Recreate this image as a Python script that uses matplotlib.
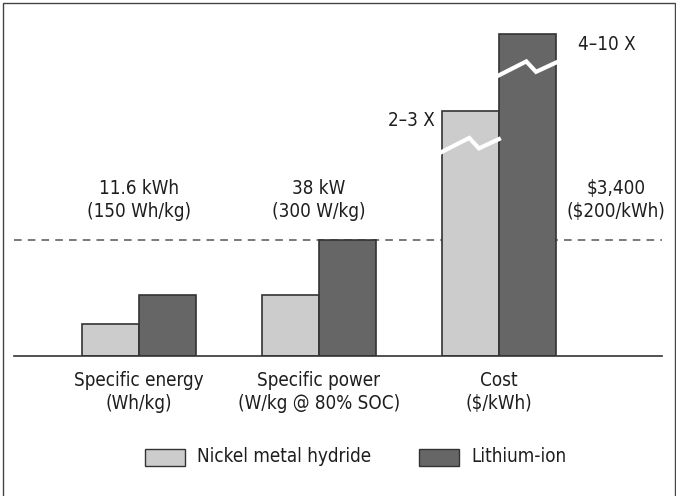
import matplotlib
matplotlib.use("Agg")
import matplotlib.pyplot as plt
import matplotlib.transforms as mtransforms
from matplotlib.patches import Rectangle
import numpy as np

plt.rcParams["font.family"] = ["DejaVu Sans"]
plt.rcParams["font.stretch"] = "condensed"

# values as fraction of the target line (target = 1.0)
categories = ["Specific energy\n(Wh/kg)", "Specific power\n(W/kg @ 80% SOC)", "Cost\n($/kWh)"]
nimh = [0.28, 0.53, 2.11]
liion = [0.53, 1.0, 2.78]
targets = ["11.6 kWh\n(150 Wh/kg)", "38 kW\n(300 W/kg)", "$3,400\n($200/kWh)"]
target_level = 1.0
cost_breaks = [1.82, 2.48]          # where the cost bars are broken
cost_multipliers = ["2\u20133 X", "4\u201310 X"]
series_names = ["Nickel metal hydride", "Lithium-ion"]

light = "#cccccc"
dark = "#666666"
edge = "#333333"
ink = "#1e1e1e"
width = 0.317

fig = plt.figure(figsize=(6.76, 4.96), dpi=100)
ax = fig.add_axes([14 / 676, 140 / 496, 648 / 676, 336 / 496])
x = np.arange(len(categories))

ax.bar(x - width / 2, nimh, width, color=light, edgecolor=edge, linewidth=1.2, zorder=2)
ax.bar(x + width / 2, liion, width, color=dark, edgecolor=edge, linewidth=1.2, zorder=2)

ax.axhline(target_level, color="#555555", linewidth=1.1, linestyle=(0, (5, 4)), zorder=1)

# break marks on the cost bars
for xc, yb in zip([x[2] - width / 2, x[2] + width / 2], cost_breaks):
    xs = [xc - width / 2, xc - width / 2 + 0.48 * width, xc - width / 2 + 0.65 * width, xc + width / 2]
    ys = [yb - 0.06, yb + 0.06, yb - 0.03, yb + 0.05]
    ax.plot(xs, ys, color="white", linewidth=3, solid_joinstyle="miter", zorder=3)

ax.set_xlim(-0.694, 2.906)
ax.set_ylim(0, 2.897)
for s in ["top", "left", "right"]:
    ax.spines[s].set_visible(False)
ax.spines["bottom"].set_color(edge)
ax.spines["bottom"].set_linewidth(1.2)
ax.set_xticks([])
ax.set_yticks([])
ax.patch.set_visible(False)

fs = 13.5
# target labels
target_x = [0, 1, 2.65]
for tx, t in zip(target_x, targets):
    ax.text(tx, target_level + 0.165, t, ha="center", va="bottom", fontsize=fs,
            color=ink, linespacing=1.25)

# multipliers on cost bars
ax.text(x[2] - width - 0.04, nimh[2] - 0.08, cost_multipliers[0], ha="right", va="center",
        fontsize=fs, color=ink)
ax.text(x[2] + width + 0.12, liion[2] - 0.09, cost_multipliers[1], ha="left", va="center",
        fontsize=fs, color=ink)

# category labels below axis
trans = mtransforms.blended_transform_factory(ax.transData, ax.transAxes)
for xi, c in zip(x, categories):
    ax.text(xi, -0.046, c, transform=trans, ha="center", va="top", fontsize=fs,
            color=ink, linespacing=1.25)

# legend drawn by hand
legend_y = 1 - 457 / 496
for (bx, tx), col, name in zip([(145, 197), (419, 471)], [light, dark], series_names):
    fig.patches.append(Rectangle((bx / 676, legend_y - 8.5 / 496), 40 / 676, 17 / 496,
                                 transform=fig.transFigure, facecolor=col,
                                 edgecolor=edge, linewidth=1.0))
    fig.text(tx / 676, legend_y, name, ha="left", va="center", fontsize=fs, color=ink)

# frame around the whole figure
fig.patches.append(Rectangle((2.5 / 676, -5 / 496), 672.5 / 676, 498 / 496, transform=fig.transFigure,
                             fill=False, edgecolor="#444444", linewidth=1.0))

fig.savefig("out.png", dpi=100)
